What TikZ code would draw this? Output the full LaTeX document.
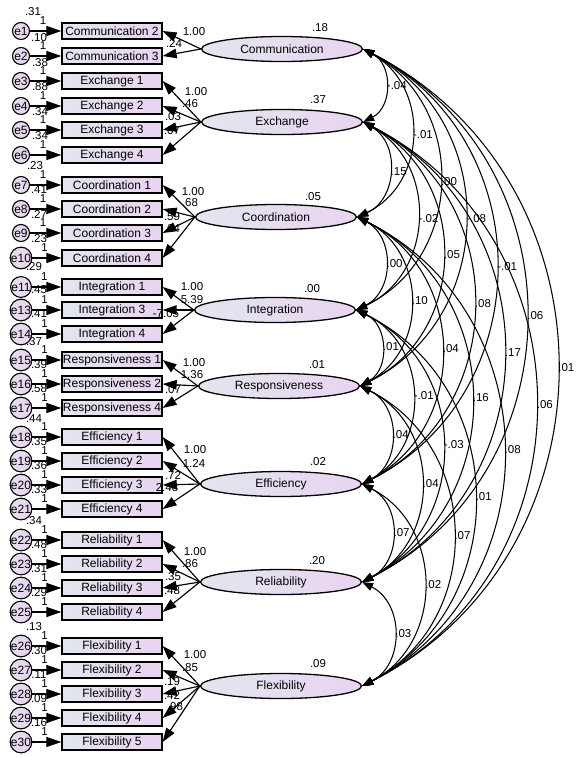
\documentclass[tikz,border=0pt]{standalone}
\usepackage{fontspec}
\setmainfont{Liberation Sans}
\usetikzlibrary{arrows.meta,shapes.geometric}

\definecolor{paleblue}{RGB}{226,230,238}
\definecolor{lavender}{RGB}{233,212,241}

\begin{document}
\begin{tikzpicture}[x=1pt,y=-1pt,line width=1.15pt,
    obs/.style={rectangle,draw,line width=1.3pt,left color=paleblue,right color=lavender,
                minimum width=100pt,minimum height=16pt,inner sep=0pt,font=\fontsize{12}{14}\selectfont},
    err/.style={circle,draw,line width=1.1pt,left color=paleblue!50!lavender,right color=lavender,
                minimum size=17pt,inner sep=0pt,font=\fontsize{12}{14}\selectfont},
    lat/.style={ellipse,draw,line width=1.3pt,left color=paleblue,right color=lavender,
                minimum width=161pt,minimum height=25pt,inner sep=0pt,font=\fontsize{12}{14}\selectfont},
    num/.style={inner sep=0pt,font=\fontsize{11.5}{13}\selectfont},
    one/.style={num,pos=0.42,yshift=10pt},
    errarrow/.style={-{Triangle[length=15pt,width=10pt]}},
    load/.style={-{Triangle[length=14pt,width=9.5pt]}},
    cov/.style={line width=1.05pt,{Triangle[length=11pt,width=8pt]}-{Triangle[length=11pt,width=8pt]},bend left=63,looseness=1.17}]

  \path[use as bounding box,fill=white] (0,0) rectangle (580,758);

  % latent factors
  \node[lat] (comm) at (282,49) {Communication};
  \node[lat] (exch) at (282,122) {Exchange};
  \node[lat] (coor) at (276,217) {Coordination};
  \node[lat] (inte) at (275,310) {Integration};
  \node[lat] (resp) at (279,386) {Responsiveness};
  \node[lat] (effi) at (281,484) {Efficiency};
  \node[lat] (reli) at (281,582) {Reliability};
  \node[lat] (flex) at (281,686) {Flexibility};

  \node[num] (vcomm) at (320,28) {.18};
  \node[num] (vexch) at (318,100) {.37};
  \node[num] (vcoor) at (313,197) {.05};
  \node[num] (vinte) at (312,289) {.00};
  \node[num] (vresp) at (317,365) {.01};
  \node[num] (veffi) at (318,462) {.02};
  \node[num] (vreli) at (317,561) {.20};
  \node[num] (vflex) at (318,664) {.09};

  % indicators and their errors
  \node[obs] (com2) at (112,31) {Communication 2};   \node[err] (e1) at (21,31) {e1};   \node[num] (ve1) at (33,12) {.31};
  \node[obs] (com3) at (112,56) {Communication 3};   \node[err] (e2) at (21,56) {e2};   \node[num] (ve2) at (39,38) {.10};
  \node[obs] (exc1) at (112,81) {Exchange 1};        \node[err] (e3) at (21,81) {e3};   \node[num] (ve3) at (40,63) {.38};
  \node[obs] (exc2) at (112,106) {Exchange 2};       \node[err] (e4) at (21,106) {e4};  \node[num] (ve4) at (40,87) {.88};
  \node[obs] (exc3) at (112,130) {Exchange 3};       \node[err] (e5) at (21,130) {e5};  \node[num] (ve5) at (40,112) {.34};
  \node[obs] (exc4) at (112,155) {Exchange 4};       \node[err] (e6) at (21,155) {e6};  \node[num] (ve6) at (40,136) {.34};
  \node[obs] (coo1) at (112,185) {Coordination 1};   \node[err] (e7) at (21,185) {e7};  \node[num] (ve7) at (35,166) {.23};
  \node[obs] (coo2) at (112,209) {Coordination 2};   \node[err] (e8) at (21,209) {e8};  \node[num] (ve8) at (39,190) {.41};
  \node[obs] (coo3) at (112,233) {Coordination 3};   \node[err] (e9) at (21,233) {e9};  \node[num] (ve9) at (39,214) {.27};
  \node[obs] (coo4) at (112,258) {Coordination 4};   \node[err] (e10) at (21,258) {e10}; \node[num] (ve10) at (39,239) {.23};
  \node[obs] (int1) at (112,287) {Integration 1};    \node[err] (e11) at (21,287) {e11}; \node[num] (ve11) at (34,267) {.29};
  \node[obs] (int3) at (112,310) {Integration 3};    \node[err] (e13) at (21,310) {e13}; \node[num] (ve13) at (39,290) {.45};
  \node[obs] (int4) at (112,334) {Integration 4};    \node[err] (e14) at (21,334) {e14}; \node[num] (ve14) at (39,314) {.41};
  \node[obs] (res1) at (112,360) {Responsiveness 1}; \node[err] (e15) at (21,360) {e15}; \node[num] (ve15) at (34,342) {.37};
  \node[obs] (res2) at (112,384) {Responsiveness 2}; \node[err] (e16) at (21,384) {e16}; \node[num] (ve16) at (39,365) {.39};
  \node[obs] (res4) at (112,408) {Responsiveness 4}; \node[err] (e17) at (21,408) {e17}; \node[num] (ve17) at (39,389) {.58};
  \node[obs] (eff1) at (112,437) {Efficiency 1};     \node[err] (e18) at (21,437) {e18}; \node[num] (ve18) at (34,419) {.44};
  \node[obs] (eff2) at (112,461) {Efficiency 2};     \node[err] (e19) at (21,461) {e19}; \node[num] (ve19) at (39,442) {.35};
  \node[obs] (eff3) at (112,485) {Efficiency 3};     \node[err] (e20) at (21,485) {e20}; \node[num] (ve20) at (39,466) {.36};
  \node[obs] (eff4) at (112,509) {Efficiency 4};     \node[err] (e21) at (21,509) {e21}; \node[num] (ve21) at (39,490) {.33};
  \node[obs] (rel1) at (112,540) {Reliability 1};    \node[err] (e22) at (21,540) {e22}; \node[num] (ve22) at (34,521) {.34};
  \node[obs] (rel2) at (112,564) {Reliability 2};    \node[err] (e23) at (21,564) {e23}; \node[num] (ve23) at (39,545) {.48};
  \node[obs] (rel3) at (112,588) {Reliability 3};    \node[err] (e24) at (21,588) {e24}; \node[num] (ve24) at (39,569) {.31};
  \node[obs] (rel4) at (112,612) {Reliability 4};    \node[err] (e25) at (21,612) {e25}; \node[num] (ve25) at (39,593) {.29};
  \node[obs] (fle1) at (112,646) {Flexibility 1};    \node[err] (e26) at (21,646) {e26}; \node[num] (ve26) at (34,627) {.13};
  \node[obs] (fle2) at (112,670) {Flexibility 2};    \node[err] (e27) at (21,670) {e27}; \node[num] (ve27) at (39,651) {.30};
  \node[obs] (fle3) at (112,694) {Flexibility 3};    \node[err] (e28) at (21,694) {e28}; \node[num] (ve28) at (39,675) {.11};
  \node[obs] (fle4) at (112,718) {Flexibility 4};    \node[err] (e29) at (21,718) {e29}; \node[num] (ve29) at (39,699) {.09};
  \node[obs] (fle5) at (112,742) {Flexibility 5};    \node[err] (e30) at (21,742) {e30}; \node[num] (ve30) at (39,723) {.16};

  % error paths
  \path[errarrow]
    (e1) edge node[one] {1} (com2)   (e2) edge node[one] {1} (com3)
    (e3) edge node[one] {1} (exc1)   (e4) edge node[one] {1} (exc2)
    (e5) edge node[one] {1} (exc3)   (e6) edge node[one] {1} (exc4)
    (e7) edge node[one] {1} (coo1)   (e8) edge node[one] {1} (coo2)
    (e9) edge node[one] {1} (coo3)   (e10) edge node[one] {1} (coo4)
    (e11) edge node[one] {1} (int1)  (e13) edge node[one] {1} (int3)
    (e14) edge node[one] {1} (int4)  (e15) edge node[one] {1} (res1)
    (e16) edge node[one] {1} (res2)  (e17) edge node[one] {1} (res4)
    (e18) edge node[one] {1} (eff1)  (e19) edge node[one] {1} (eff2)
    (e20) edge node[one] {1} (eff3)  (e21) edge node[one] {1} (eff4)
    (e22) edge node[one] {1} (rel1)  (e23) edge node[one] {1} (rel2)
    (e24) edge node[one] {1} (rel3)  (e25) edge node[one] {1} (rel4)
    (e26) edge node[one] {1} (fle1)  (e27) edge node[one] {1} (fle2)
    (e28) edge node[one] {1} (fle3)  (e29) edge node[one] {1} (fle4)
    (e30) edge node[one] {1} (fle5);

  % factor loadings
  \path[load]
    (comm.west) edge (com2.east) (comm.west) edge (com3.east)
    (exch.west) edge (exc1.east) (exch.west) edge (exc2.east)
    (exch.west) edge (exc3.east) (exch.west) edge (exc4.east)
    (coor.west) edge (coo1.east) (coor.west) edge (coo2.east)
    (coor.west) edge (coo3.east) (coor.west) edge (coo4.east)
    (inte.west) edge (int1.east) (inte.west) edge (int3.east)
    (inte.west) edge (int4.east)
    (resp.west) edge (res1.east) (resp.west) edge (res2.east)
    (resp.west) edge (res4.east)
    (effi.west) edge (eff1.east) (effi.west) edge (eff2.east)
    (effi.west) edge (eff3.east) (effi.west) edge (eff4.east)
    (reli.west) edge (rel1.east) (reli.west) edge (rel2.east)
    (reli.west) edge (rel3.east) (reli.west) edge (rel4.east)
    (flex.west) edge (fle1.east) (flex.west) edge (fle2.east)
    (flex.west) edge (fle3.east) (flex.west) edge (fle4.east)
    (flex.west) edge (fle5.east);

  \node[num] (lcom2) at (194,32) {1.00};  \node[num] (lcom3) at (174,43) {.24};
  \node[num] (lexc1) at (196,92) {1.00};  \node[num] (lexc2) at (190,104) {.46};
  \node[num] (lexc3) at (173,117) {.03};  \node[num] (lexc4) at (172,131) {.07};
  \node[num] (lcoo1) at (193,192) {1.00}; \node[num] (lcoo2) at (190,203) {.68};
  \node[num] (lcoo3) at (172,217) {.59};  \node[num] (lcoo4) at (172,229) {.64};
  \node[num] (lint1) at (192,287) {1.00}; \node[num] (lint3) at (192,300) {5.39};
  \node[num] (lint4) at (166,314) {-7.05};
  \node[num] (lres1) at (194,363) {1.00}; \node[num] (lres2) at (192,375) {1.36};
  \node[num] (lres4) at (173,390) {.07};
  \node[num] (leff1) at (195,450) {1.00}; \node[num] (leff2) at (194,463) {1.24};
  \node[num] (leff3) at (173,475) {.72};  \node[num] (leff4) at (167,488) {2.48};
  \node[num] (lrel1) at (195,552) {1.00}; \node[num] (lrel2) at (190,564) {.86};
  \node[num] (lrel3) at (173,577) {.35};  \node[num] (lrel4) at (172,591) {.48};
  \node[num] (lfle1) at (195,655) {1.00}; \node[num] (lfle2) at (190,668) {.85};
  \node[num] (lfle3) at (172,682) {.19};  \node[num] (lfle4) at (172,695) {.42};
  \node[num] (lfle5) at (175,707) {.98};

  % covariances
  \path[every node/.style={num,anchor=west,inner sep=1pt}]
    (comm.east) edge[cov] node {-.04} (exch.east)
    (comm.east) edge[cov] node {-.01} (coor.east)
    (comm.east) edge[cov] node {.00} (inte.east)
    (comm.east) edge[cov] node {-.08} (resp.east)
    (comm.east) edge[cov] node {-.01} (effi.east)
    (comm.east) edge[cov] node {.06} (reli.east)
    (comm.east) edge[cov] node {.01} (flex.east)
    (exch.east) edge[cov] node {.15} (coor.east)
    (exch.east) edge[cov] node {-.02} (inte.east)
    (exch.east) edge[cov] node {.05} (resp.east)
    (exch.east) edge[cov] node {.08} (effi.east)
    (exch.east) edge[cov] node {.17} (reli.east)
    (exch.east) edge[cov] node {.06} (flex.east)
    (coor.east) edge[cov] node {.00} (inte.east)
    (coor.east) edge[cov] node {.10} (resp.east)
    (coor.east) edge[cov] node {.04} (effi.east)
    (coor.east) edge[cov] node {.16} (reli.east)
    (coor.east) edge[cov] node {.08} (flex.east)
    (inte.east) edge[cov] node {.01} (resp.east)
    (inte.east) edge[cov] node {-.01} (effi.east)
    (inte.east) edge[cov] node {-.03} (reli.east)
    (inte.east) edge[cov] node {.01} (flex.east)
    (resp.east) edge[cov] node {.04} (effi.east)
    (resp.east) edge[cov] node {.04} (reli.east)
    (resp.east) edge[cov] node {.07} (flex.east)
    (effi.east) edge[cov] node {.07} (reli.east)
    (effi.east) edge[cov] node {.02} (flex.east)
    (reli.east) edge[cov] node {.03} (flex.east);
\end{tikzpicture}
\end{document}
